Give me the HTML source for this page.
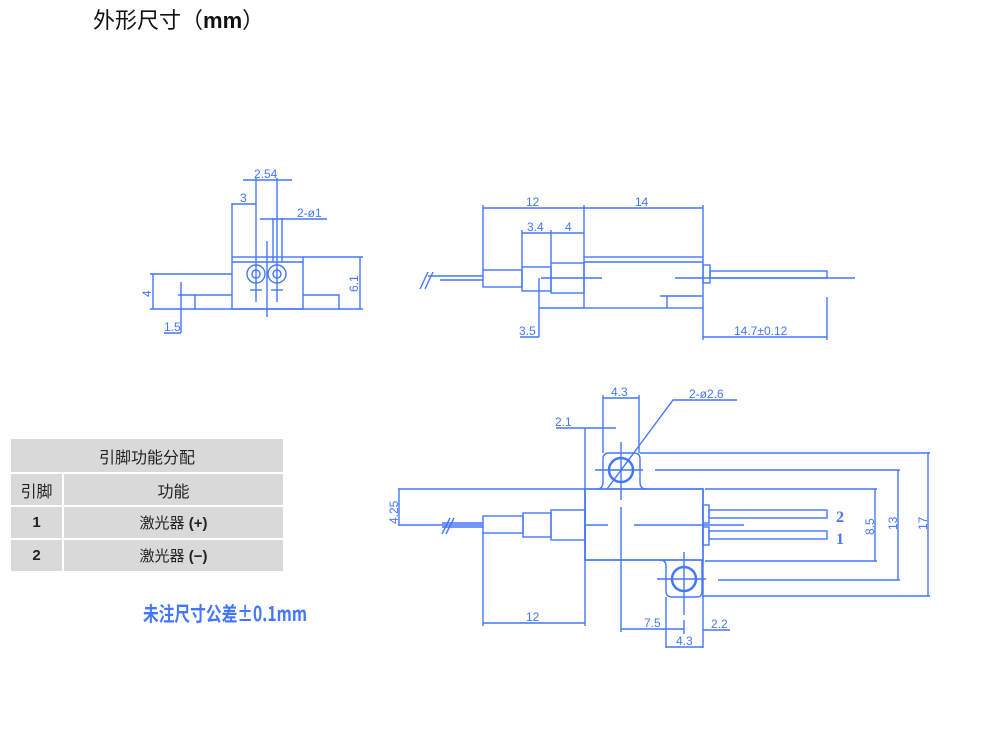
<!DOCTYPE html>
<html><head><meta charset="utf-8"><style>
html,body{margin:0;padding:0;background:#fff;}
body{width:1000px;height:730px;position:relative;overflow:hidden;font-family:"Liberation Sans","Noto Sans CJK SC",sans-serif;}
.title{position:absolute;left:93px;top:3px;font-size:22px;color:#111;font-family:"Liberation Sans","Noto Sans CJK SC",sans-serif;}
.title b{font-weight:bold;}
table{position:absolute;left:10px;top:438px;border-collapse:separate;border-spacing:0;}
td{background:#d9d9d9;text-align:center;font-size:15px;color:#222;padding:0;border:1px solid #fff;}
svg{position:absolute;left:0;top:0;}
</style></head><body>
<div class="title">外形尺寸（<b>mm</b>）</div>
<table>
<tr><td colspan="2" style="width:272px;height:33px;font-size:16px;">引脚功能分配</td></tr>
<tr><td style="width:51px;height:31px;font-size:16px;">引脚</td><td style="width:219px;font-size:16px;">功能</td></tr>
<tr><td style="height:31px;font-weight:bold;">1</td><td>激光器 <b>(+)</b></td></tr>
<tr><td style="height:31px;font-weight:bold;">2</td><td>激光器 <b>(−)</b></td></tr>
</table>
<svg width="1000" height="730" viewBox="0 0 1000 730" xmlns="http://www.w3.org/2000/svg">
<g stroke="#4477ff" stroke-width="1.4" fill="none">
<!-- Drawing 1 -->
<rect x="232" y="257" width="71" height="52"/>
<line x1="232" y1="262" x2="303" y2="262"/>
<polyline points="232,295 195,295 195,309 339,309 339,295 303,295"/>
<line x1="150" y1="274" x2="232" y2="274"/>
<line x1="150" y1="309" x2="195" y2="309"/>
<line x1="153" y1="274" x2="153" y2="309"/>
<line x1="181" y1="282" x2="181" y2="333"/>
<line x1="178" y1="295" x2="195" y2="295"/>
<line x1="303" y1="257" x2="363" y2="257"/>
<line x1="339" y1="309" x2="363" y2="309"/>
<line x1="360" y1="257" x2="360" y2="309"/>
<circle cx="256" cy="274" r="9"/><circle cx="256" cy="274" r="4"/>
<circle cx="277" cy="274" r="9"/><circle cx="277" cy="274" r="4"/>
<line x1="256" y1="178" x2="256" y2="302"/>
<line x1="277" y1="178" x2="277" y2="302"/>
<line x1="250" y1="290" x2="262" y2="290"/><line x1="271" y1="290" x2="283" y2="290"/>
<line x1="267" y1="241" x2="267" y2="317"/>
<line x1="243" y1="180" x2="292" y2="180"/>
<line x1="232" y1="203" x2="232" y2="257"/>
<line x1="232" y1="204" x2="256" y2="204"/>
<line x1="273" y1="218" x2="273" y2="262"/><line x1="282" y1="218" x2="282" y2="262"/>
<line x1="260" y1="219" x2="327" y2="219"/>
<line x1="164" y1="333" x2="181" y2="333"/>
<!-- Drawing 2 -->
<rect x="584" y="257" width="119" height="51"/>
<line x1="584" y1="262" x2="703" y2="262"/>
<rect x="551" y="263" width="33" height="30"/>
<rect x="522" y="267" width="29" height="24"/>
<rect x="483" y="270" width="39" height="17"/>
<line x1="428" y1="276" x2="483" y2="276"/><line x1="440" y1="280" x2="483" y2="280"/>
<line x1="420" y1="289" x2="428" y2="272"/><line x1="425" y1="289" x2="433" y2="272"/>
<line x1="541" y1="278" x2="602" y2="278"/><line x1="675" y1="278" x2="855" y2="278"/>
<rect x="703" y="265" width="7" height="18"/>
<rect x="710" y="271" width="117" height="7"/>
<polyline points="660,296 703,296"/><line x1="667" y1="296" x2="667" y2="308"/>
<line x1="483" y1="205" x2="483" y2="270"/>
<line x1="584" y1="205" x2="584" y2="257"/>
<line x1="703" y1="205" x2="703" y2="257"/>
<line x1="483" y1="208" x2="703" y2="208"/>
<line x1="522" y1="230" x2="522" y2="267"/><line x1="551" y1="230" x2="551" y2="263"/>
<line x1="522" y1="233" x2="584" y2="233"/>
<line x1="539" y1="278" x2="539" y2="337"/>
<line x1="539" y1="308" x2="584" y2="308"/>
<line x1="520" y1="337" x2="539" y2="337"/>
<line x1="703" y1="308" x2="703" y2="340"/><line x1="827" y1="297" x2="827" y2="340"/>
<line x1="703" y1="337" x2="827" y2="337"/>
<!-- Drawing 3 -->
<rect x="585" y="489" width="118" height="71" stroke-width="1.7"/>
<path d="M597,489 Q603,489 603,482 L603,459 Q603,453 609,453 L634,453 Q640,453 640,459 L640,482 Q640,489 646,489"/>
<path d="M660,560 Q666,560 666,566 L666,591 Q666,597 672,597 L697,597 Q702,597 702,591 L702,560"/>
<circle cx="621" cy="470" r="12" stroke-width="2.5"/>
<circle cx="684" cy="579" r="12" stroke-width="2.5"/>
<line x1="595" y1="470" x2="643" y2="470"/>
<line x1="621" y1="442" x2="621" y2="500"/><line x1="621" y1="507" x2="621" y2="632"/>
<line x1="657" y1="579" x2="706" y2="579"/>
<line x1="684" y1="552" x2="684" y2="615"/><line x1="684" y1="620" x2="684" y2="634"/>
<line x1="585" y1="525" x2="608" y2="525"/><line x1="634" y1="525" x2="744" y2="525"/>
<rect x="551" y="510" width="34" height="30"/>
<rect x="523" y="513" width="28" height="24"/>
<rect x="483" y="516" width="40" height="17"/>
<line x1="442" y1="523" x2="483" y2="523"/><line x1="442" y1="527" x2="483" y2="527"/>
<line x1="442" y1="534" x2="450" y2="518"/><line x1="446" y1="534" x2="454" y2="518"/>
<rect x="703" y="505" width="6" height="18"/><rect x="703" y="527" width="6" height="18"/>
<rect x="709" y="510" width="118" height="8"/><rect x="709" y="531" width="118" height="8"/>
<line x1="640" y1="453" x2="930" y2="453"/>
<line x1="655" y1="470" x2="900" y2="470"/>
<line x1="705" y1="489" x2="877" y2="489"/>
<line x1="705" y1="561" x2="877" y2="561"/>
<line x1="718" y1="580" x2="900" y2="580"/>
<line x1="702" y1="596" x2="930" y2="596"/>
<line x1="875" y1="489" x2="875" y2="561"/>
<line x1="898" y1="470" x2="898" y2="580"/>
<line x1="928" y1="453" x2="928" y2="596"/>
<line x1="398" y1="489" x2="585" y2="489"/>
<line x1="398" y1="525" x2="483" y2="525"/>
<line x1="399" y1="489" x2="399" y2="525"/>
<line x1="483" y1="533" x2="483" y2="626"/>
<line x1="585" y1="428" x2="585" y2="626"/>
<line x1="483" y1="623" x2="585" y2="623"/>
<line x1="556" y1="428" x2="616" y2="428"/>
<line x1="603" y1="395" x2="603" y2="453"/><line x1="639" y1="395" x2="639" y2="453"/>
<line x1="603" y1="398" x2="639" y2="398"/>
<polyline points="607,489 673,400 737,400"/>
<line x1="621" y1="629" x2="684" y2="629"/>
<line x1="703" y1="560" x2="703" y2="648"/><line x1="666" y1="597" x2="666" y2="648"/>
<line x1="703" y1="630" x2="730" y2="630"/>
<line x1="666" y1="647" x2="703" y2="647"/>
</g>
<g fill="#4477ff" font-family="Liberation Sans, sans-serif" font-size="12">
<text x="254" y="178">2.54</text>
<text x="240" y="202">3</text>
<text x="297" y="217">2-ø1</text>
<text x="164" y="331">1.5</text>
<text transform="translate(151,297) rotate(-90)">4</text>
<text transform="translate(358,292) rotate(-90)">6.1</text>
<text x="526" y="206">12</text>
<text x="635" y="206">14</text>
<text x="527" y="231">3.4</text>
<text x="565" y="231">4</text>
<text x="519" y="335">3.5</text>
<text x="734" y="335">14.7±0.12</text>
<text x="611" y="396">4.3</text>
<text x="689" y="398">2-ø2.6</text>
<text x="555" y="426">2.1</text>
<text transform="translate(398,524) rotate(-90)">4.25</text>
<text x="526" y="621">12</text>
<text x="644" y="627">7.5</text>
<text x="711" y="628">2.2</text>
<text x="676" y="645">4.3</text>
<text transform="translate(874,535) rotate(-90)">8.5</text>
<text transform="translate(897,530) rotate(-90)">13</text>
<text transform="translate(927,530) rotate(-90)">17</text>
<text x="836" y="522" font-family="Liberation Serif, serif" font-weight="bold" font-size="16">2</text>
<text x="836" y="544" font-family="Liberation Serif, serif" font-weight="bold" font-size="16">1</text>
</g>
<text x="143" y="621" fill="#4477ff" font-size="20" font-weight="bold" font-family="Liberation Sans Narrow, Noto Sans CJK SC, sans-serif" textLength="164" lengthAdjust="spacingAndGlyphs">未注尺寸公差±0.1mm</text>
</svg>
</body></html>
